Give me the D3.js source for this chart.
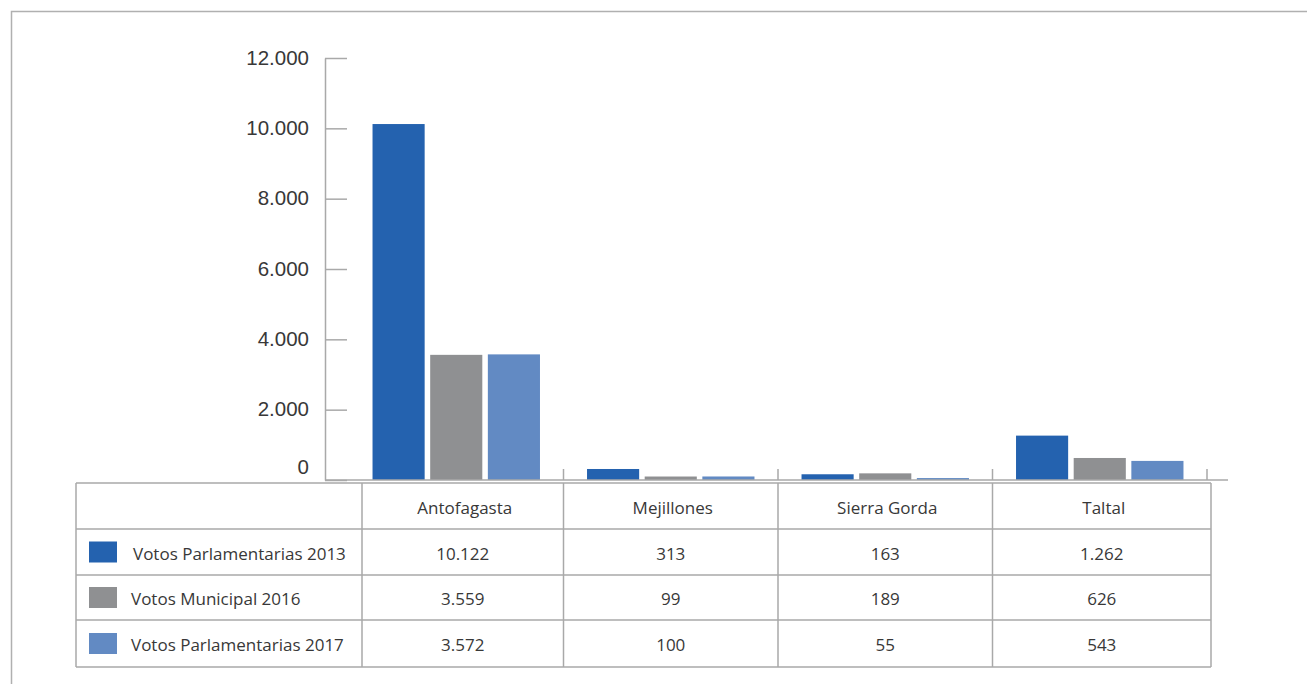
<!DOCTYPE html>
<html>
<head>
<meta charset="utf-8">
<script src="https://cdn.jsdelivr.net/npm/d3@7"></script>
<style>
  body { margin: 0; background: #fff; }
  svg { display: block; font-family: "Open Sans", "Noto Sans", sans-serif; }
</style>
</head>
<body>
<svg id="chart" width="1307" height="684"></svg>
<script>
// data
var comunas = ["Antofagasta", "Mejillones", "Sierra Gorda", "Taltal"];
var series = ["Votos Parlamentarias 2013", "Votos Municipal 2016", "Votos Parlamentarias 2017"];
var parlamentarias2013 = [10122, 313, 163, 1262];
var municipal2016 = [3559, 99, 189, 626];
var parlamentarias2017 = [3572, 100, 55, 543];
var yTicks = [0, 2000, 4000, 6000, 8000, 10000, 12000];

var colors = ["#2462af", "#8f9092", "#628ac3"];
var values = [parlamentarias2013, municipal2016, parlamentarias2017];

var svg = d3.select("#chart");
var lineColor = "#a9a9a9";
var textColor = "#383838";

var locale = d3.formatLocale({decimal: ",", thousands: ".", grouping: [3], currency: ["$", ""]});
var fmt = locale.format(",");

// outer frame
svg.append("path")
    .attr("d", "M11.5,684V11.5H1307")
    .attr("fill", "none")
    .attr("stroke", "#b0b0b0")
    .attr("stroke-width", 1.5);

var y = d3.scaleLinear().domain([0, 12000]).range([480, 58]);
var x = d3.scaleBand().domain(comunas).range([349, 1207]).padding(0);
var xs = d3.scaleBand().domain(series).range([0, x.bandwidth()])
    .paddingInner(0.096).paddingOuter(0.408);

// y axis
var yAxis = svg.append("g")
    .attr("transform", "translate(325,0)")
    .call(d3.axisLeft(y).tickValues(yTicks).tickFormat(fmt)
        .tickSizeInner(-22).tickSizeOuter(0).tickPadding(16));
yAxis.select(".domain").attr("stroke", lineColor).attr("stroke-width", 1.5);
yAxis.selectAll(".tick line").attr("stroke", lineColor).attr("stroke-width", 1.5);
yAxis.selectAll(".tick text")
    .attr("fill", textColor)
    .style("font-size", "20.5px")
    .attr("dy", function(d) { return d === 0 ? "-0.3em" : "0.3em"; });

// bars
comunas.forEach(function(c, i) {
    series.forEach(function(s, j) {
        svg.append("rect")
            .attr("x", x(c) + xs(s))
            .attr("y", y(values[j][i]))
            .attr("width", xs.bandwidth())
            .attr("height", y(0) - y(values[j][i]))
            .attr("fill", colors[j]);
    });
});

// x baseline and category ticks
svg.append("line")
    .attr("x1", 325).attr("x2", 1228)
    .attr("y1", y(0)).attr("y2", y(0))
    .attr("stroke", lineColor).attr("stroke-width", 1.5);
comunas.forEach(function(c) {
    var bx = x(c) + x.step();
    svg.append("line")
        .attr("x1", bx).attr("x2", bx)
        .attr("y1", y(0)).attr("y2", y(0) - 11)
        .attr("stroke", lineColor).attr("stroke-width", 1.5);
});

// data table
var colEdges = [76, 362].concat(comunas.slice(0, -1).map(function(c) { return x(c) + x.step(); })).concat([1211]);
var rowEdges = [483, 529, 575, 620, 667];
var table = svg.append("g");

rowEdges.forEach(function(ry) {
    table.append("line")
        .attr("x1", colEdges[0]).attr("x2", colEdges[colEdges.length - 1])
        .attr("y1", ry).attr("y2", ry)
        .attr("stroke", lineColor).attr("stroke-width", 1.5);
});
colEdges.forEach(function(cx) {
    table.append("line")
        .attr("x1", cx).attr("x2", cx)
        .attr("y1", rowEdges[0])
        .attr("y2", rowEdges[rowEdges.length - 1])
        .attr("stroke", lineColor).attr("stroke-width", 1.5);
});

function rowMid(r) { return (rowEdges[r] + rowEdges[r + 1]) / 2 + 3; }
function colMid(c) { return (colEdges[c + 1] + colEdges[c + 2]) / 2; }

comunas.forEach(function(c, i) {
    table.append("text")
        .attr("x", colMid(i) + 2)
        .attr("y", rowMid(0))
        .attr("text-anchor", "middle")
        .attr("dominant-baseline", "middle")
        .attr("fill", textColor)
        .style("font-size", "17px")
        .text(c);
});

series.forEach(function(s, j) {
    var cy = rowMid(j + 1);
    table.append("rect")
        .attr("x", 89).attr("y", (rowEdges[j + 1] + rowEdges[j + 2]) / 2 - 10.5)
        .attr("width", 28).attr("height", 21)
        .attr("fill", colors[j]);
    table.append("text")
        .attr("x", j === 0 ? 133 : 131)
        .attr("y", cy)
        .attr("dominant-baseline", "middle")
        .attr("fill", textColor)
        .style("font-size", "17px")
        .text(s);
    comunas.forEach(function(c, i) {
        table.append("text")
            .attr("x", colMid(i))
            .attr("y", cy)
            .attr("text-anchor", "middle")
            .attr("dominant-baseline", "middle")
            .attr("fill", textColor)
            .style("font-size", "17px")
            .text(fmt(values[j][i]));
    });
});
</script>
</body>
</html>
